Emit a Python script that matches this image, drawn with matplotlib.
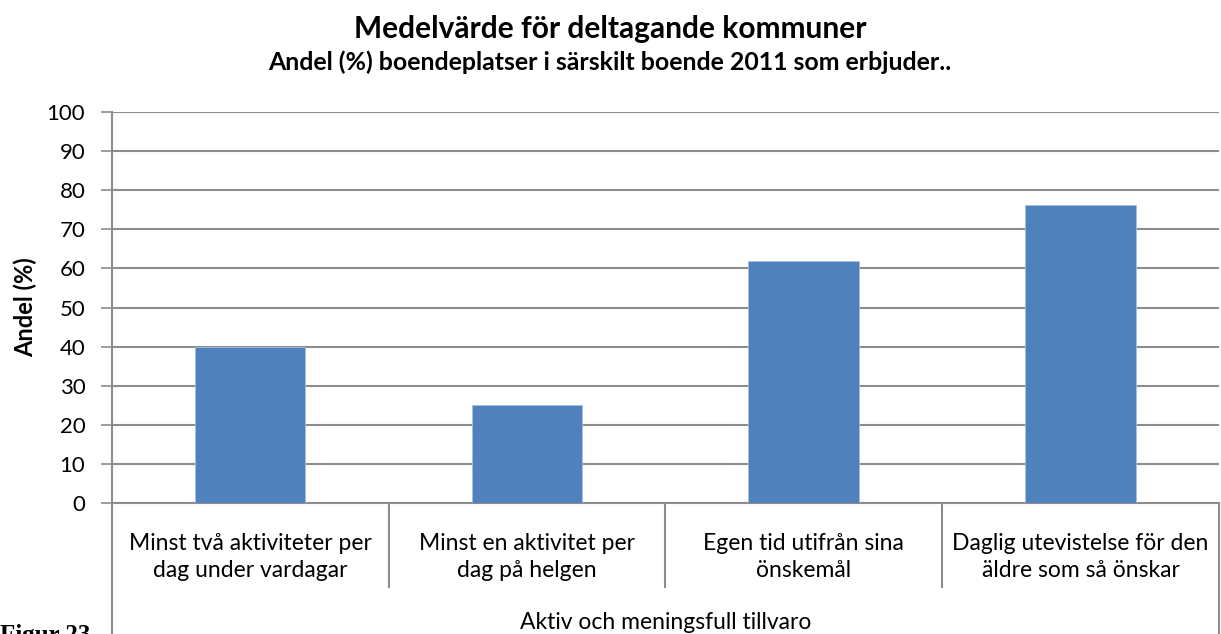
import matplotlib
matplotlib.use("Agg")
from matplotlib import pyplot as plt

categories = [
    "Minst två aktiviteter per\ndag under vardagar",
    "Minst en aktivitet per\ndag på helgen",
    "Egen tid utifrån sina\nönskemål",
    "Daglig utevistelse för den\näldre som så önskar",
]
values = [40.0, 25.1, 61.9, 76.2]
group_label = "Aktiv och meningsfull tillvaro"
yticks = list(range(0, 101, 10))

FONT = ["Lato", "DejaVu Sans"]
GRID = "#8c8c8c"
BAR = "#4f81bd"
W, H = 1221, 634

plt.rcParams['font.family'] = FONT

fig = plt.figure(figsize=(W / 100, H / 100), dpi=100)
# bounding box [left, bottom, width, height]
ax = fig.add_axes([111.7 / W, (H - 503.3) / H, (1219 - 111.7) / W, (503.3 - 111.7) / H])

x = list(range(len(values)))
ax.bar(x, values, width=0.4, color=BAR, edgecolor="#a6bfdd", linewidth=0.6, zorder=3)

ax.set_xlim(-0.5, len(values) - 0.5)
ax.set_ylim(0, 100)
ax.set_yticks(yticks)
ax.yaxis.grid(True, color=GRID, linewidth=1.5, zorder=0)
ax.set_xticks([])
ax.tick_params(axis='y', direction='out', length=8, width=1.2, color=GRID,
               labelsize=16, pad=11)

for s in ['top', 'right']:
    ax.spines[s].set_visible(False)
for s in ['left', 'bottom']:
    ax.spines[s].set_color(GRID)
    ax.spines[s].set_linewidth(1.5)

ax.set_ylabel("Andel (%)", fontsize=17, fontweight='bold', labelpad=7)

# category labels and separators below the axis
tr = ax.get_xaxis_transform()
for i, lab in enumerate(categories):
    ax.text(i, -0.137, lab, transform=tr, ha='center', va='center',
            fontsize=16.5, linespacing=1.4)
for i in range(1, len(categories)):
    ax.plot([i - 0.5, i - 0.5], [0, -0.213], transform=tr, color=GRID,
            linewidth=1.5, clip_on=False)
for xe in [-0.5, len(categories) - 0.5]:
    ax.plot([xe, xe], [0, -0.34], transform=tr, color=GRID,
            linewidth=1.5, clip_on=False)
ax.text((len(categories) - 1) / 2, -0.305, group_label, transform=tr,
        ha='center', va='center', fontsize=16.5)

fig.text(610 / W, 1 - 38 / H, "Medelvärde för deltagande kommuner",
         ha='center', va='baseline', fontsize=21.5, fontweight='bold')
fig.text(610 / W, 1 - 70 / H,
         "Andel (%) boendeplatser i särskilt boende 2011 som erbjuder..",
         ha='center', va='baseline', fontsize=17.9, fontweight='bold')

fig.text(0.0, -8 / H, "Figur 23", ha='left', va='baseline', fontsize=18,
         fontweight='bold', family=["Liberation Serif", "DejaVu Serif"])

fig.savefig("out.png", dpi=100)
